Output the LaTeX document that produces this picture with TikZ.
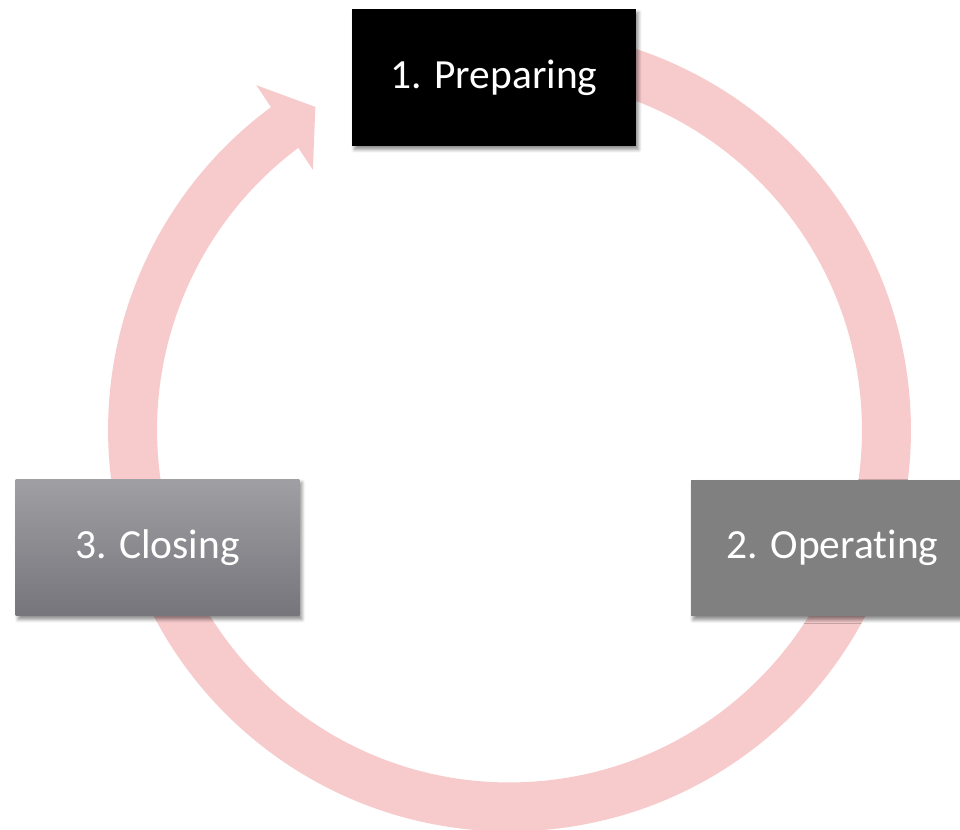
\documentclass[tikz,border=0pt]{standalone}
\usepackage{fontspec}
\setmainfont{Carlito}[Ligatures={NoCommon}]
\usetikzlibrary{arrows.meta,bending,shadows.blur}
\definecolor{ringpink}{RGB}{247,203,204}
\definecolor{closetop}{RGB}{160,159,164}
\definecolor{closebot}{RGB}{118,117,123}

\begin{document}
\begin{tikzpicture}[x=0.02cm, y=0.02cm,
     every node/.style={text=white, font=\fontsize{23.6}{28}\selectfont},
     stage/.style={rectangle, minimum width=5.68cm, minimum height=2.74cm, inner sep=0pt,
       blur shadow={shadow xshift=0.05cm, shadow yshift=-0.07cm, shadow blur steps=6, shadow opacity=45}},
     ring/.style={draw=ringpink, line width=0.98cm, -{Triangle[length=0.74cm, width=2cm]}}]

   \useasboundingbox (0,0) rectangle (960,-830);
   \clip (0,0) rectangle (960,-830);

   % the cycle
   \coordinate (ctr) at (509.5,-430);
   \draw[ring] (ctr) ++(95:7.54cm) arc[start angle=95, end angle=-239, radius=7.54cm];

   % the three stages
   \node[stage, fill=black] (prep) at (494,-77.5) {1. Preparing};
   \node[stage, fill={rgb,255:red,128;green,128;blue,128}] (oper) at (832.5,-548) {2. Operating};
   \node[stage, top color=closetop, bottom color=closebot] (clos) at (157.5,-547.5) {3. Closing};
\end{tikzpicture}
\end{document}
